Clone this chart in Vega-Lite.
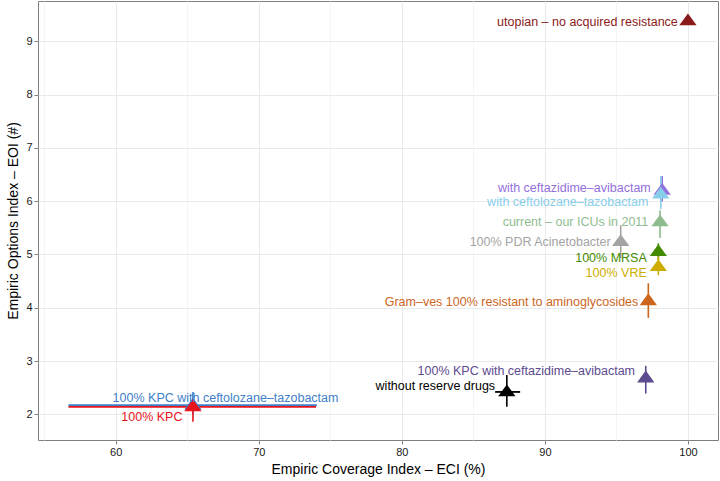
{
  "$schema": "https://vega.github.io/schema/vega-lite/v6.json",
  "width": 680,
  "height": 439,
  "autosize": "none",
  "padding": {"left": 38, "top": 1, "right": 2, "bottom": 41},
  "background": "white",
  "config": {
    "font": "Liberation Sans",
    "view": {"stroke": "#7F7F7F", "strokeWidth": 1},
    "axis": {
      "domain": false,
      "labelFont": "Liberation Sans",
      "titleFont": "Liberation Sans",
      "labelFontSize": 11,
      "titleFontSize": 14,
      "titleFontWeight": "normal",
      "labelColor": "#1A1A1A",
      "titleColor": "#000000",
      "tickColor": "#7F7F7F",
      "tickSize": 4,
      "labelPadding": 2
    }
  },
  "data": {
    "values": [
      {"label": "utopian – no acquired resistance", "x": 100, "y": 9.38, "lx": 99.29, "ly": 9.37},
      {"label": "with ceftazidime–avibactam", "x": 98.2, "y": 6.2, "ylo": 5.99, "yhi": 6.47, "lx": 97.4, "ly": 6.24},
      {"label": "with ceftolozane–tazobactam", "x": 98.1, "y": 6.13, "ylo": 5.85, "yhi": 6.47, "lx": 97.23, "ly": 5.98},
      {"label": "current – our ICUs in 2011", "x": 98.05, "y": 5.61, "ylo": 5.31, "yhi": 5.83, "lx": 97.23, "ly": 5.6},
      {"label": "100% PDR Acinetobacter", "x": 95.3, "y": 5.24, "ylo": 4.93, "yhi": 5.55, "lx": 94.6, "ly": 5.24},
      {"label": "100% MRSA", "x": 97.93, "y": 5.05, "ylo": 4.9, "yhi": 5.21, "lx": 97.12, "ly": 4.94},
      {"label": "100% VRE", "x": 97.93, "y": 4.77, "ylo": 4.61, "yhi": 4.96, "lx": 97.12, "ly": 4.66},
      {"label": "Gram–ves 100% resistant to aminoglycosides", "x": 97.23, "y": 4.13, "ylo": 3.81, "yhi": 4.46, "lx": 96.53, "ly": 4.11},
      {"label": "100% KPC with ceftazidime–avibactam", "x": 97.05, "y": 2.68, "ylo": 2.39, "yhi": 2.91, "lx": 96.3, "ly": 2.81},
      {"label": "without reserve drugs", "x": 87.34, "y": 2.42, "ylo": 2.14, "yhi": 2.74, "xlo": 86.52, "xhi": 88.27, "lx": 86.52, "ly": 2.54},
      {"label": "100% KPC with ceftolozane–tazobactam", "x": 65.4, "y": 2.17, "ylo": 2.0, "yhi": 2.42, "xlo": 56.7, "xhi": 74.06, "lx": 75.57, "ly": 2.3},
      {"label": "100% KPC", "x": 65.4, "y": 2.14, "ylo": 1.86, "yhi": 2.3, "xlo": 56.7, "xhi": 74.0, "lx": 64.67, "ly": 1.955}
    ]
  },
  "layer": [
    {
      "transform": [{"filter": "isValid(datum.ylo)"}],
      "mark": {"type": "rule", "strokeWidth": 1.6},
      "encoding": {
        "x": {
          "field": "x", "type": "quantitative", "title": "Empiric Coverage Index – ECI (%)",
          "scale": {"domain": [54.57, 102.1], "nice": false, "zero": false},
          "axis": {
            "values": [55, 60, 65, 70, 75, 80, 85, 90, 95, 100],
            "labelExpr": "datum.value % 10 === 0 ? datum.label : ''",
            "tickOpacity": {"condition": {"test": "datum.value % 10 === 0", "value": 1}, "value": 0},
            "gridColor": {"condition": {"test": "datum.value % 10 === 0", "value": "#EAEAEA"}, "value": "#F5F5F5"},
            "titlePadding": 5
          }
        },
        "y": {
          "field": "ylo", "type": "quantitative", "title": "Empiric Options Index – EOI (#)",
          "scale": {"domain": [1.518, 9.756], "nice": false, "zero": false},
          "axis": {
            "values": [2, 2.5, 3, 3.5, 4, 4.5, 5, 5.5, 6, 6.5, 7, 7.5, 8, 8.5, 9, 9.5],
            "labelExpr": "datum.value % 1 === 0 ? datum.label : ''",
            "tickOpacity": {"condition": {"test": "datum.value % 1 === 0", "value": 1}, "value": 0},
            "gridColor": {"condition": {"test": "datum.value % 1 === 0", "value": "#EAEAEA"}, "value": "#F5F5F5"},
            "titlePadding": 5
          }
        },
        "y2": {"field": "yhi"},
        "color": {"field": "label", "type": "nominal", "legend": null,
          "scale": {
            "domain": ["utopian – no acquired resistance", "with ceftazidime–avibactam", "with ceftolozane–tazobactam", "current – our ICUs in 2011", "100% PDR Acinetobacter", "100% MRSA", "100% VRE", "Gram–ves 100% resistant to aminoglycosides", "100% KPC with ceftazidime–avibactam", "without reserve drugs", "100% KPC with ceftolozane–tazobactam", "100% KPC"],
            "range": ["#8B1A1A", "#9370DB", "#87CEEB", "#8FBC8F", "#A3A3A3", "#458B00", "#CDAD00", "#CD661D", "#5D4A8F", "#000000", "#3D80C8", "#E8141E"]
          }
        }
      }
    },
    {
      "transform": [{"filter": "isValid(datum.xlo)"}],
      "mark": {"type": "rule", "strokeWidth": 1.8},
      "encoding": {
        "x": {"field": "xlo", "type": "quantitative", "title": "Empiric Coverage Index – ECI (%)"},
        "x2": {"field": "xhi"},
        "y": {"field": "y", "type": "quantitative", "title": "Empiric Options Index – EOI (#)"},
        "color": {"field": "label", "type": "nominal", "legend": null}
      }
    },
    {
      "mark": {"type": "point", "filled": true, "opacity": 1, "shape": "M0,-0.866L1,0.5L-1,0.5Z", "size": 300},
      "encoding": {
        "x": {"field": "x", "type": "quantitative", "title": "Empiric Coverage Index – ECI (%)"},
        "y": {"field": "y", "type": "quantitative", "title": "Empiric Options Index – EOI (#)"},
        "color": {"field": "label", "type": "nominal", "legend": null}
      }
    },
    {
      "mark": {"type": "text", "align": "right", "baseline": "middle", "fontSize": 12.5, "font": "Liberation Sans"},
      "encoding": {
        "x": {"field": "lx", "type": "quantitative", "title": "Empiric Coverage Index – ECI (%)"},
        "y": {"field": "ly", "type": "quantitative", "title": "Empiric Options Index – EOI (#)"},
        "text": {"field": "label"},
        "color": {"field": "label", "type": "nominal", "legend": null}
      }
    }
  ]
}
